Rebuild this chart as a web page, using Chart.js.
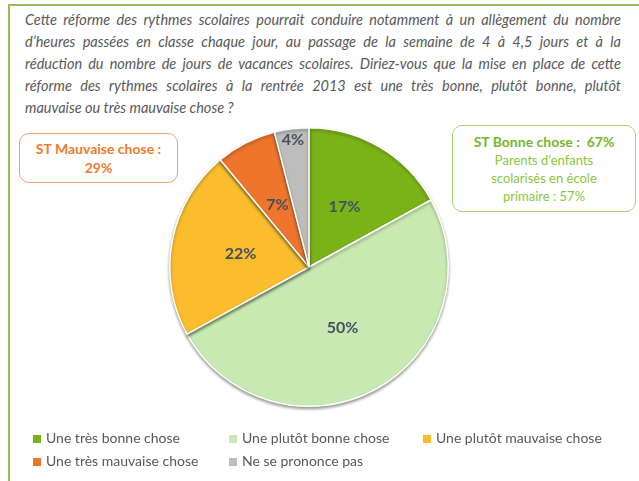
<!DOCTYPE html>
<html lang="fr">
<head>
<meta charset="utf-8">
<script src="https://cdn.jsdelivr.net/npm/chart.js@4"></script>
<style>
  html, body { margin: 0; padding: 0; background: #fff; }
  body { width: 639px; height: 481px; position: relative; overflow: hidden; font-family: Lato, "Open Sans", sans-serif; }
  .frame { position: absolute; left: 8px; top: 4px; width: 700px; height: 600px; border-left: 2px solid #9bbb59; border-top: 2px solid #9bbb59; }
  .question { position: absolute; left: 25px; top: 9px; width: 596px; font-style: italic; font-size: 14.5px; line-height: 22px; color: #595959; }
  .question div { text-align: justify; text-align-last: justify; white-space: nowrap; }
  .question div.last { text-align-last: left; }
  #chartWrap { position: absolute; left: 0; top: 0; width: 639px; height: 481px; }
  .box { position: absolute; background: #fff; border-radius: 10px; text-align: center; }
  .box.bad { left: 19px; top: 133px; width: 159px; height: 50px; border: 1px solid #f4a06a; color: #f07b2e; font-weight: bold; font-size: 14px; line-height: 19px; box-sizing: border-box; display: flex; flex-direction: column; justify-content: center; }
  .box.good { left: 452px; top: 125px; width: 184px; height: 87px; border: 1px solid #a8d46f; color: #8cc63f; font-size: 13px; line-height: 18px; box-sizing: border-box; display: flex; flex-direction: column; justify-content: center; }
  .box.good b { color: #76b82a; font-size: 14px; }
  .legend { position: absolute; left: 0; top: 0; font-size: 14px; color: #595959; }
  .legend span { position: absolute; white-space: nowrap; line-height: 16px; }
  .legend i { display: inline-block; width: 8px; height: 8px; margin-right: 5px; vertical-align: 0px; }
</style>
</head>
<body>
<div class="frame"></div>
<div class="question">
  <div>Cette réforme des rythmes scolaires pourrait conduire notamment à un allègement du nombre</div>
  <div>d’heures passées en classe chaque jour, au passage de la semaine de 4 à 4,5 jours et à la</div>
  <div>réduction du nombre de jours de vacances scolaires. Diriez-vous que la mise en place de cette</div>
  <div>réforme des rythmes scolaires à la rentrée 2013 est une très bonne, plutôt bonne, plutôt</div>
  <div class="last">mauvaise ou très mauvaise chose ?</div>
</div>
<div id="chartWrap"><canvas id="pie" width="639" height="481"></canvas></div>
<div class="box bad"><div>ST Mauvaise chose :</div><div>29%</div></div>
<div class="box good"><div><b>ST Bonne chose :&nbsp; 67%</b></div><div>Parents d’enfants</div><div>scolarisés en école</div><div>primaire : 57%</div></div>
<div class="legend" id="legend"></div>
<script>
// données du camembert
const labels = ['Une très bonne chose', 'Une plutôt bonne chose', 'Une plutôt mauvaise chose', 'Une très mauvaise chose', 'Ne se prononce pas'];
const values = [17, 50, 22, 7, 4];
const colors = ['#7ab317', '#c8eab2', '#fbbd2d', '#ef752c', '#bdbdbd'];

// ombre légère sous les parts (effet relief)
const pieShadow = {
  id: 'pieShadow',
  beforeDatasetsDraw(chart) {
    const ctx = chart.ctx;
    ctx.save();
    ctx.shadowColor = 'rgba(40,50,30,0.45)';
    ctx.shadowBlur = 3;
    ctx.shadowOffsetY = 2;
  },
  afterDatasetsDraw(chart) {
    chart.ctx.restore();
  }
};

// étiquettes % dans les parts
const pctLabels = {
  id: 'pctLabels',
  afterDatasetsDraw(chart) {
    const ctx = chart.ctx;
    const meta = chart.getDatasetMeta(0);
    ctx.save();
    ctx.font = 'bold 16px Lato, "Open Sans", sans-serif';
    ctx.fillStyle = '#44505f';
    ctx.textAlign = 'center';
    ctx.textBaseline = 'middle';
    meta.data.forEach((arc, i) => {
      const p = arc.getProps(['x', 'y', 'startAngle', 'endAngle', 'outerRadius'], true);
      const mid = (p.startAngle + p.endAngle) / 2;
      const f = values[i] < 5 ? 0.92 : 0.5;
      const x = p.x + Math.cos(mid) * p.outerRadius * f;
      const y = p.y + Math.sin(mid) * p.outerRadius * f;
      ctx.fillText(values[i] + '%', x, y);
    });
    ctx.restore();
  }
};

new Chart(document.getElementById('pie'), {
  type: 'pie',
  data: {
    labels: labels,
    datasets: [{
      data: values,
      backgroundColor: colors,
      borderColor: '#ffffff',
      borderWidth: 1.5
    }]
  },
  options: {
    responsive: false,
    animation: false,
    layout: { padding: { left: 169, right: 190, top: 127, bottom: 74 } },
    plugins: { legend: { display: false }, tooltip: { enabled: false } }
  },
  plugins: [pieShadow, pctLabels]
});

// légende HTML
const legendPos = [[33, 430], [229, 430], [423, 430], [33, 453], [229, 453]];
let html = '';
for (let i = 0; i < labels.length; i++) {
  html += `<span style="left:${legendPos[i][0]}px;top:${legendPos[i][1]}px"><i style="background:${colors[i]}"></i>${labels[i]}</span>`;
}
document.getElementById('legend').innerHTML = html;
</script>
</body>
</html>
